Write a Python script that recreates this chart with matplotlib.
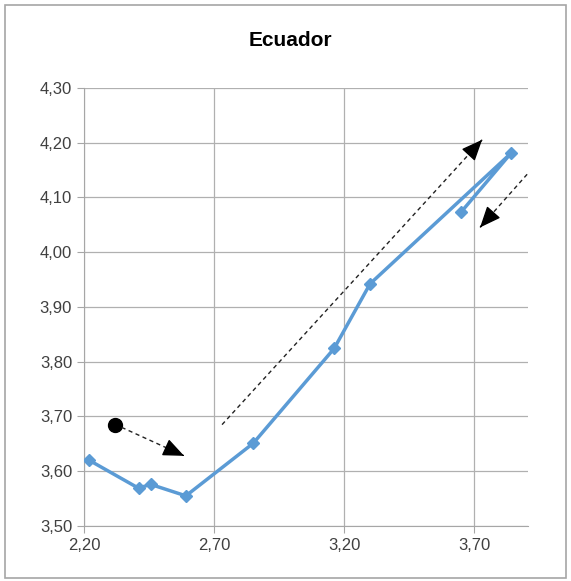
import matplotlib.pyplot as plt
from matplotlib.patches import Rectangle
from matplotlib.ticker import FuncFormatter

# data (path ends by turning back)
xs = [2.22, 2.41, 2.456, 2.592, 2.851, 3.162, 3.30, 3.841, 3.65]
ys = [3.620, 3.569, 3.576, 3.555, 3.651, 3.824, 3.942, 4.180, 4.073]

start_pt = (2.319, 3.685)
arrows = [((2.345, 3.680), (2.585, 3.628)),
          ((2.731, 3.685), (3.731, 4.205)),
          ((3.904, 4.142), (3.723, 4.045))]

plt.rcParams['font.family'] = ['Liberation Sans', 'DejaVu Sans']

fig = plt.figure(figsize=(5.71, 5.81), dpi=100)
ax = fig.add_axes([0.147, 0.0947, 0.778, 0.7543])

fig.patches.append(Rectangle((0.009, 0.006), 0.982, 0.986, transform=fig.transFigure,
                             fill=False, edgecolor='#a6a6a6', linewidth=1.2))

ax.plot(xs, ys, color='#5B9BD5', linewidth=2.5, marker='D', markersize=6,
        markerfacecolor='#5B9BD5', markeredgecolor='#5B9BD5', zorder=3)

ax.plot(*start_pt, 'o', color='black', markersize=10, zorder=4)
for (x0, y0), (x1, y1) in arrows:
    # dashed shaft
    ax.plot([x0, x1], [y0, y1], color='#222222', lw=1, linestyle=(0, (3, 2.5)), zorder=4)
    # solid head
    xb = x1 - (x1 - x0) * 0.02
    yb = y1 - (y1 - y0) * 0.02
    ax.annotate('', xy=(x1, y1), xytext=(xb, yb),
                arrowprops=dict(arrowstyle='-|>,head_length=1.3,head_width=0.55',
                                color='black', lw=1, shrinkA=0, shrinkB=0), zorder=5)

ax.set_xlim(2.20, 3.908)
ax.set_ylim(3.50, 4.30)
ax.set_xticks([2.20, 2.70, 3.20, 3.70])
ax.set_yticks([3.50 + 0.1 * i for i in range(9)])
fmt = FuncFormatter(lambda v, p: ('%.2f' % v).replace('.', ','))
ax.xaxis.set_major_formatter(fmt)
ax.yaxis.set_major_formatter(fmt)

ax.grid(True, color='#b0b0b0', linewidth=0.9)
ax.set_axisbelow(True)
for s in ['top', 'right']:
    ax.spines[s].set_visible(False)
for s in ['left', 'bottom']:
    ax.spines[s].set_color('#a6a6a6')
ax.tick_params(colors='#a6a6a6', labelcolor='#404040', labelsize=12, length=5)

fig.text(0.508, 0.93, 'Ecuador', ha='center', va='center', fontsize=15,
         fontweight='bold', color='black')

fig.savefig('out.png', dpi=100)
